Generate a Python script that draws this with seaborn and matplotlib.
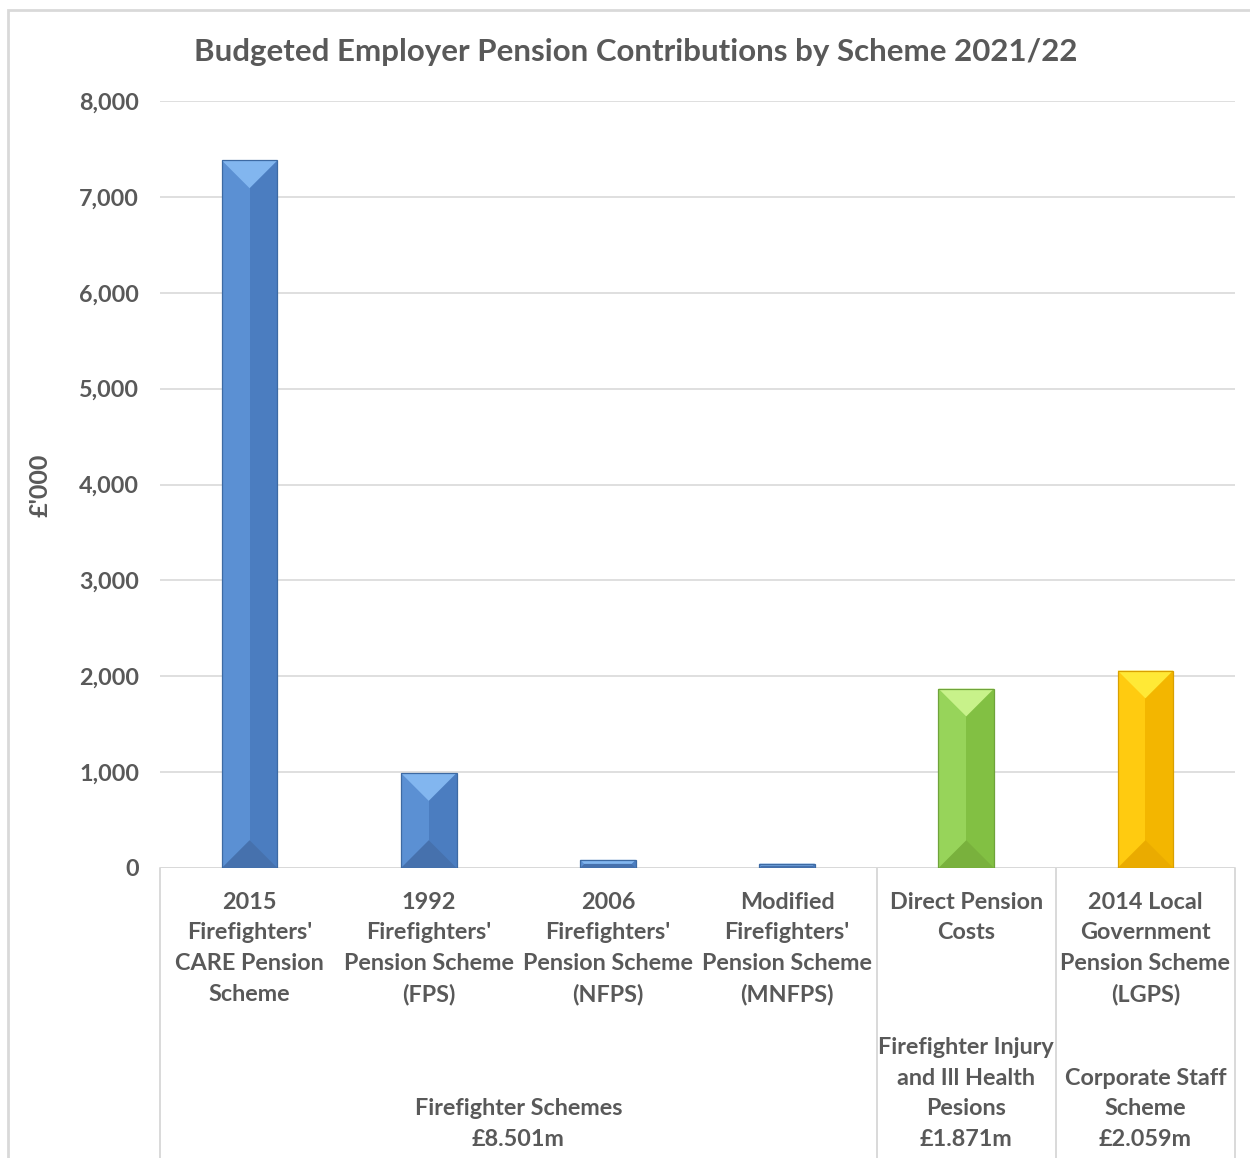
import matplotlib
matplotlib.use("Agg")
import matplotlib.pyplot as plt
import matplotlib.transforms as mtransforms
from matplotlib.patches import Polygon, Rectangle
import pandas as pd
import seaborn as sns

# ---- data -------------------------------------------------------------
schemes = [
    "2015\nFirefighters'\nCARE Pension\nScheme",
    "1992\nFirefighters'\nPension Scheme\n(FPS)",
    "2006\nFirefighters'\nPension Scheme\n(NFPS)",
    "Modified\nFirefighters'\nPension Scheme\n(MNFPS)",
    "Direct Pension\nCosts",
    "2014 Local\nGovernment\nPension Scheme\n(LGPS)",
]
contributions = [7380, 990, 85, 46, 1871, 2059]  # £'000
scheme_group = ["Firefighter", "Firefighter", "Firefighter", "Firefighter",
                "Injury", "Corporate"]
group_labels = ["Firefighter Schemes\n£8.501m",
                "Firefighter Injury\nand Ill Health\nPesions\n£1.871m",
                "Corporate Staff\nScheme\n£2.059m"]
group_spans = [(0, 3), (4, 4), (5, 5)]
y_ticks = [0, 1000, 2000, 3000, 4000, 5000, 6000, 7000, 8000]
title = "Budgeted Employer Pension Contributions by Scheme 2021/22"
y_title = "£'000"

# face colours per group: left, right, top, bottom, edge
group_colors = {
    "Firefighter": dict(left="#5b90d3", right="#4b7dc0", top="#82b6ef",
                        bottom="#4671ad", edge="#3d6aa3"),
    "Injury": dict(left="#97d45a", right="#82c043", top="#c8f28a",
                   bottom="#79b13d", edge="#6fa33a"),
    "Corporate": dict(left="#ffcb10", right="#f3b600", top="#ffe936",
                      bottom="#eaab00", edge="#d9a000"),
}

df = pd.DataFrame({"scheme": schemes, "value": contributions,
                   "group": scheme_group})

# ---- figure -----------------------------------------------------------
W, H = 1250, 1158
sns.set_theme(style="white")
plt.rcParams["font.family"] = ["Lato", "DejaVu Sans"]
plt.rcParams["font.weight"] = "bold"
text_color = "#595959"
grid_color = "#d9d9d9"
label_size = 16.8
line_sp = 1.57

fig = plt.figure(figsize=(W / 100, H / 100), dpi=100)
fig.patch.set_facecolor("white")
ax = fig.add_axes([160 / W, 1 - 868 / H, (1235 - 160) / W, (868 - 101) / H])

sns.barplot(data=df, x="scheme", y="value", hue="group",
            palette={k: v["left"] for k, v in group_colors.items()},
            saturation=1, dodge=False, width=0.31, legend=False, ax=ax,
            zorder=3, edgecolor="none")

ax.set_xlim(-0.5, len(schemes) - 0.5)
ax.set_ylim(0, 8000)
ax.set_yticks(y_ticks)
ax.set_yticklabels([f"{v:,}" for v in y_ticks])
ax.yaxis.grid(True, color=grid_color, linewidth=1.2, zorder=0)
ax.set_axisbelow(True)
for s in ax.spines.values():
    s.set_visible(False)
ax.axhline(0, color=grid_color, linewidth=1.4, zorder=2)

ax.set_xlabel("")
ax.set_ylabel("")
ax.tick_params(axis="y", length=0, pad=15, labelsize=label_size,
               labelcolor=text_color)
ax.tick_params(axis="x", length=0, pad=17, labelsize=label_size,
               labelcolor=text_color)
ax.set_xticks(range(len(schemes)))
ax.set_xticklabels(schemes, linespacing=line_sp, fontweight="bold")
for lbl in ax.get_yticklabels():
    lbl.set_fontweight("bold")

# ---- bevelled bar faces -------------------------------------------------
fig.canvas.draw()
to_disp = ax.transData
to_data = ax.transData.inverted()
bars = [p for p in ax.patches if p.get_height() > 0]
for p in bars:
    x0, w, h = p.get_x(), p.get_width(), p.get_height()
    idx = int(round(x0 + w / 2))
    col = group_colors[scheme_group[idx]]
    (px0, py0) = to_disp.transform((x0, 0))
    (px1, py1) = to_disp.transform((x0 + w, h))
    d = min((px1 - px0) / 2, (py1 - py0) / 2)
    pxc = (px0 + px1) / 2

    def poly(pts, color):
        pts = to_data.transform(pts)
        ax.add_patch(Polygon(pts, closed=True, facecolor=color,
                             edgecolor="none", zorder=4))

    poly([(pxc, py0), (px1, py0), (px1, py1), (pxc, py1)], col["right"])
    poly([(px0, py1), (px1, py1), (px1 - d, py1 - d), (px0 + d, py1 - d)], col["top"])
    poly([(px0, py0), (px1, py0), (px1 - d, py0 + d), (px0 + d, py0 + d)], col["bottom"])
    ax.add_patch(Rectangle((x0, 0), w, h, facecolor="none",
                           edgecolor=col["edge"], linewidth=0.9, zorder=5))

# ---- multi-level category axis -----------------------------------------
sep_tr = mtransforms.blended_transform_factory(ax.transData, ax.transAxes)
for xs in (-0.5, 3.5, 4.5, 5.5):
    ax.plot([xs, xs], [0, -0.5], transform=sep_tr, color=grid_color,
            linewidth=1.4, clip_on=False, zorder=1)

lab_tr = mtransforms.blended_transform_factory(ax.transData, fig.transFigure)
for (a, b), text in zip(group_spans, group_labels):
    ax.text((a + b) / 2, 12 / H, text, transform=lab_tr, ha="center",
            va="baseline", fontsize=label_size, fontweight="bold",
            color=text_color, linespacing=line_sp)

# ---- titles and frame ---------------------------------------------------
fig.text(636 / W, 1 - 52 / H, title, ha="center", va="center",
         fontsize=22.5, fontweight="bold", color=text_color)
fig.text(40 / W, 1 - 485 / H, y_title, ha="center", va="center",
         rotation=90, fontsize=18, fontweight="bold", color=text_color)
fig.add_artist(Rectangle((8 / W, -0.01), 1.5, 1 - 10 / H + 0.01,
                         transform=fig.transFigure, facecolor="none",
                         edgecolor=grid_color, linewidth=2, zorder=0))

fig.savefig("out.png", dpi=100, facecolor="white")
